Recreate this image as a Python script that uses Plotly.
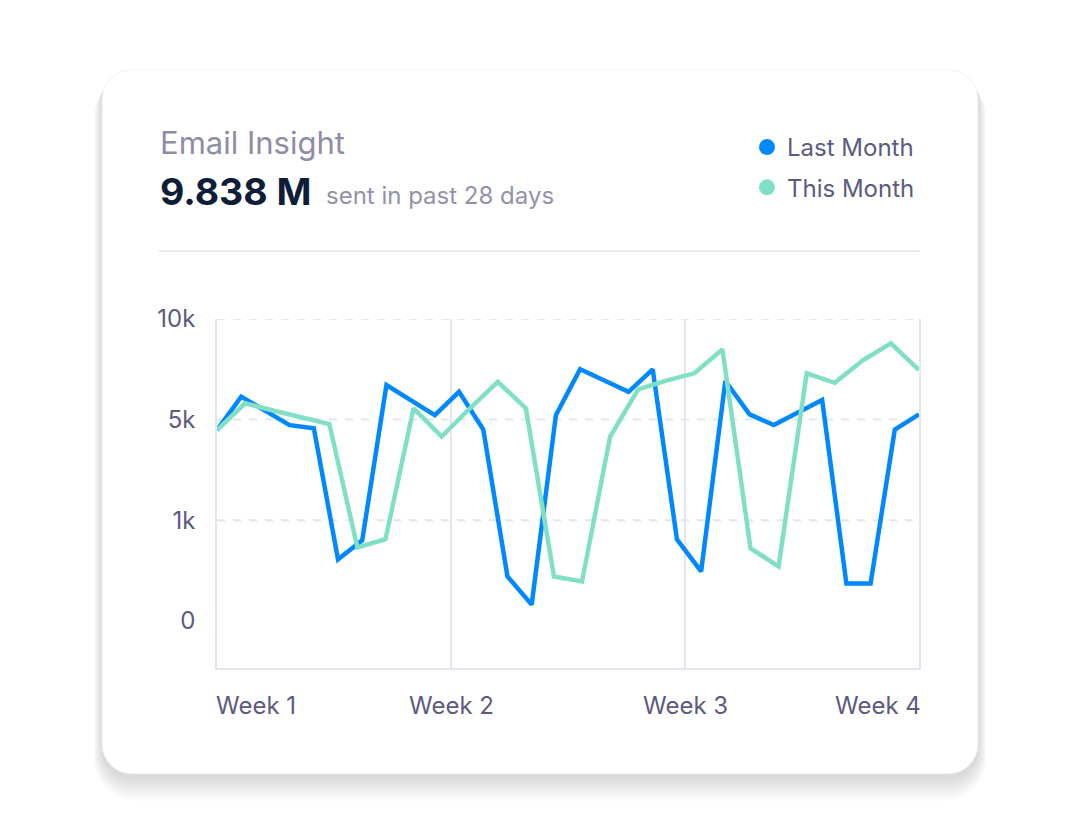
import numpy as np
import plotly.graph_objects as go

# ---------------- data ----------------
series_names = ["Last Month", "This Month"]
# values in thousands of emails, one per sample across the 28-day window
last_month = [4.58, 6.14, 5.43, 4.78, 4.65, 0.61, 0.80, 6.72, 5.97, 5.22,
              6.38, 4.60, 0.44, 0.16, 5.22, 7.50, 6.94, 6.38, 7.50, 0.81,
              0.49, 6.92, 5.26, 4.78, 5.35, 5.97, 0.37, 0.37, 4.60, 5.26]
this_month = [4.58, 5.81, 5.45, 5.11, 4.82, 0.73, 0.81, 5.56, 4.32, 5.55,
              6.88, 5.56, 0.44, 0.39, 4.32, 6.50, 6.94, 7.30, 8.49, 0.72,
              0.54, 7.30, 6.83, 7.95, 8.79, 7.46]
y_tick_values_k = [0, 1, 5, 10]
y_tick_labels = ["0", "1k", "5k", "10k"]
y_grid_values_k = [1, 5, 10]
week_labels = ["Week 1", "Week 2", "Week 3", "Week 4"]
title_text = "Email Insight"
total_text = "9.838 M"
total_caption = "sent in past 28 days"

# ---------------- style ----------------
OFF = 8  # page body margin
W, H = 1080, 840
PL, PR, PT, PB = 217 - OFF, 919 - OFF, 319 - OFF, 668 - OFF  # plot area in figure pixels
BLUE = "#0088ff"
GREEN = "#80e0c6"
GRID = "#e4e5ee"
TICK_COL = "#5d5a82"
FONT = "Inter"


def to_axis(v):
    """Piecewise scale: 0 / 1k / 5k / 10k equally spaced."""
    return np.interp(v, y_tick_values_k, np.arange(len(y_tick_values_k)))


# screen-pixel (reference) -> paper coords
def px_x(x):
    return (x - OFF - PL) / (PR - PL)


def px_y(y):
    return (PB - (y - OFF)) / (PB - PT)


def rounded_rect(x0, y0, x1, y1, r):
    k = 0.5523 * r
    def P(x, y):
        return f"{px_x(x):.5f},{px_y(y):.5f}"
    d = f"M {P(x0 + r, y0)} L {P(x1 - r, y0)} "
    d += f"C {P(x1 - r + k, y0)} {P(x1, y0 + r - k)} {P(x1, y0 + r)} "
    d += f"L {P(x1, y1 - r)} "
    d += f"C {P(x1, y1 - r + k)} {P(x1 - r + k, y1)} {P(x1 - r, y1)} "
    d += f"L {P(x0 + r, y1)} "
    d += f"C {P(x0 + r - k, y1)} {P(x0, y1 - r + k)} {P(x0, y1 - r)} "
    d += f"L {P(x0, y0 + r)} "
    d += f"C {P(x0, y0 + r - k)} {P(x0 + r - k, y0)} {P(x0 + r, y0)} Z"
    return d


fig = go.Figure()

x_last = np.arange(len(last_month))
x_this = np.arange(len(this_month))

fig.add_trace(go.Scatter(x=x_this, y=to_axis(this_month), mode="lines",
                         line=dict(color=GREEN, width=4.5), xaxis="x2",
                         showlegend=False, name=series_names[1]))
fig.add_trace(go.Scatter(x=x_last, y=to_axis(last_month), mode="lines",
                         line=dict(color=BLUE, width=4.5),
                         showlegend=False, name=series_names[0]))
# legend entries (dots)
for nm, col in zip(series_names, [BLUE, GREEN]):
    fig.add_trace(go.Scatter(x=[None], y=[None], mode="markers", name=nm,
                             marker=dict(size=16, color=col), legendgroup=nm))

# card + shadow
shapes = []
cx0, cy0, cx1, cy1, cr = 102, 70, 978, 774, 30
for i in range(12, 0, -1):
    shapes.append(dict(type="path", xref="paper", yref="paper", layer="below",
                       path=rounded_rect(cx0 - i * 0.7, cy0 + 2 + i * 0.3,
                                         cx1 + i * 0.7, cy1 + 3 + i * 2.0, cr + i),
                       fillcolor="rgba(40,40,80,0.016)", line=dict(width=0)))
shapes.append(dict(type="path", xref="paper", yref="paper", layer="below",
                   path=rounded_rect(cx0, cy0, cx1, cy1, cr),
                   fillcolor="white", line=dict(color="rgba(228,228,236,0.5)", width=1)))
# divider
shapes.append(dict(type="line", xref="paper", yref="paper", layer="below",
                   x0=px_x(159), x1=px_x(920), y0=px_y(251), y1=px_y(251),
                   line=dict(color="#e6e9f1", width=2)))
# dashed horizontal gridlines (not at 0)
for gv in to_axis(y_grid_values_k):
    shapes.append(dict(type="line", xref="x", yref="y", layer="below",
                       x0=0, x1=len(last_month) - 1, y0=gv, y1=gv,
                       line=dict(color=GRID, width=2, dash="8px,8px")))

annotations = [
    dict(text=title_text, x=px_x(158), y=px_y(143), xref="paper", yref="paper",
         xanchor="left", yanchor="middle", showarrow=False,
         font=dict(family=FONT, size=31, color="#8f8ca8")),
    dict(text=f"<b>{total_text}</b>", x=px_x(158), y=px_y(191), xref="paper", yref="paper",
         xanchor="left", yanchor="middle", showarrow=False,
         font=dict(family=FONT, size=37.5, color="#0e1d38")),
    dict(text=total_caption, x=px_x(324), y=px_y(195), xref="paper", yref="paper",
         xanchor="left", yanchor="middle", showarrow=False,
         font=dict(family=FONT, size=24, color="#9491ac")),
]
week_pos = np.linspace(0, len(last_month) - 1, len(week_labels))
anchors = ["left"] + ["center"] * (len(week_labels) - 2) + ["right"]
shifts = [-3] + [0] * (len(week_labels) - 2) + [4]
for lab, xp, an, sh in zip(week_labels, week_pos, anchors, shifts):
    annotations.append(dict(text=lab, x=xp, y=px_y(705), xref="x", yref="paper",
                            xanchor=an, yanchor="middle", showarrow=False, xshift=sh,
                            font=dict(family=FONT, size=24, color=TICK_COL)))

fig.update_layout(
    width=W, height=H,
    margin=dict(l=PL, r=W - PR, t=PT, b=H - PB),
    paper_bgcolor="white", plot_bgcolor="rgba(0,0,0,0)",
    font=dict(family=FONT, color=TICK_COL),
    shapes=shapes, annotations=annotations,
    showlegend=True,
    legend=dict(x=px_x(747), y=px_y(125), xanchor="left", yanchor="top",
                font=dict(family=FONT, size=24, color="#5c5a80"),
                bgcolor="rgba(0,0,0,0)", tracegroupgap=6, itemsizing="trace"),
    xaxis=dict(range=[0, len(last_month) - 1], tickvals=week_pos, showticklabels=False,
               showgrid=True, gridcolor=GRID, gridwidth=1.5, zeroline=False,
               showline=True, linecolor=GRID, linewidth=2, ticks=""),
    xaxis2=dict(range=[0, len(this_month) - 1], overlaying="x", visible=False),
    yaxis=dict(range=[-0.47, 3.0], tickvals=to_axis(y_tick_values_k), ticktext=y_tick_labels,
               showgrid=False, zeroline=False, showline=True, mirror=True,
               linecolor=GRID, linewidth=1.5,
               ticks="outside", ticklen=15, tickcolor="rgba(0,0,0,0)",
               tickfont=dict(family=FONT, size=24, color=TICK_COL)),
)

fig.write_html("out.html")
